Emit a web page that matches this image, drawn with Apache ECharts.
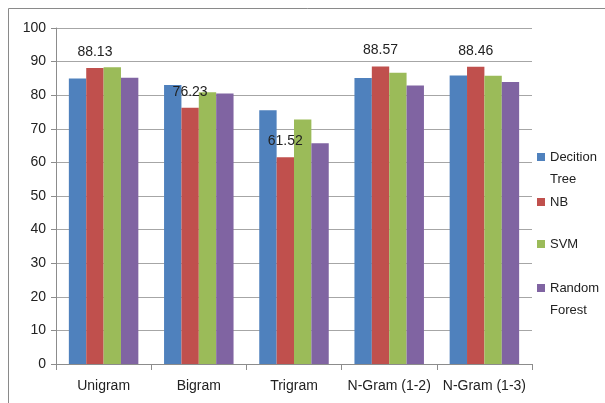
<!DOCTYPE html>
<html>
<head>
<meta charset="utf-8">
<script src="https://cdn.jsdelivr.net/npm/echarts@6/dist/echarts.min.js"></script>
<style>
  html, body { margin: 0; padding: 0; background: #fff; }
  #chart { width: 605px; height: 403px; }
</style>
</head>
<body>
<div id="chart"></div>
<script>
// Accuracy (%) of each classifier per feature set
const categories = ['Unigram', 'Bigram', 'Trigram', 'N-Gram (1-2)', 'N-Gram (1-3)'];
const seriesNames = ['Decition Tree', 'NB', 'SVM', 'Random Forest'];
const decisionTree = [85.0, 83.0, 75.5, 85.1, 85.9];
const naiveBayes = [88.13, 76.23, 61.52, 88.57, 88.46];
const svm = [88.3, 80.9, 72.8, 86.7, 85.8];
const randomForest = [85.2, 80.5, 65.7, 82.9, 83.9];
const yTicks = { min: 0, max: 100, interval: 10 };

const colors = ['#4F81BD', '#C0504D', '#9BBB59', '#8064A2'];
const values = [decisionTree, naiveBayes, svm, randomForest];
const FONT = "'Liberation Sans', Arial, sans-serif";

const chart = echarts.init(document.getElementById('chart'), null, { renderer: 'canvas' });

const series = seriesNames.map((name, i) => ({
  name,
  type: 'bar',
  data: values[i],
  barGap: '0%',
  barCategoryGap: '27%',
  itemStyle: { color: colors[i] },
  label: i === 1 ? {
    show: true,
    position: 'top',
    distance: 9,
    color: '#222',
    fontFamily: FONT,
    fontSize: 14,
    formatter: p => p.value.toFixed(2)
  } : { show: false },
  z: 2
}));

// One legend block per entry; two-word names wrap, with the marker beside the first line
// (a leading blank line keeps the first word on the marker's centre line)
const legendTops = [124, 191, 233, 255];
const wrapped = { 'Decition Tree': '\nDecition\nTree', 'Random Forest': '\nRandom\nForest' };
const legends = seriesNames.map((name, i) => ({
  left: 537,
  top: legendTops[i],
  orient: 'vertical',
  itemWidth: 8,
  itemHeight: 8,
  icon: 'rect',
  padding: 0,
  itemGap: 0,
  data: [name],
  formatter: n => wrapped[n] || n,
  textStyle: { fontFamily: FONT, fontSize: 13, color: '#222', lineHeight: 22 }
}));

chart.setOption({
  animation: false,
  backgroundColor: '#fff',
  color: colors,
  grid: { left: 56, right: 73, top: 28, bottom: 39, containLabel: false },
  legend: legends,
  graphic: [{
    type: 'rect',
    shape: { x: 8.5, y: 8.5, width: 700, height: 500 },
    style: { fill: null, stroke: '#8a8a8a', lineWidth: 1 },
    silent: true,
    z: -1
  }],
  xAxis: {
    type: 'category',
    data: categories,
    axisLine: { show: true, lineStyle: { color: '#8c8c8c', width: 1 } },
    axisTick: { show: true, alignWithLabel: false, length: 6, lineStyle: { color: '#8c8c8c' } },
    axisLabel: { interval: 0, color: '#222', fontFamily: FONT, fontSize: 14, margin: 15 },
    splitLine: { show: false }
  },
  yAxis: {
    type: 'value',
    min: yTicks.min,
    max: yTicks.max,
    interval: yTicks.interval,
    axisLine: { show: true, lineStyle: { color: '#8c8c8c', width: 1 } },
    axisTick: { show: true, length: 5, lineStyle: { color: '#8c8c8c' } },
    axisLabel: { color: '#222', fontFamily: FONT, fontSize: 14, margin: 10 },
    splitLine: { show: true, lineStyle: { color: '#a6a6a6', width: 1 } }
  },
  series
});
</script>
</body>
</html>
